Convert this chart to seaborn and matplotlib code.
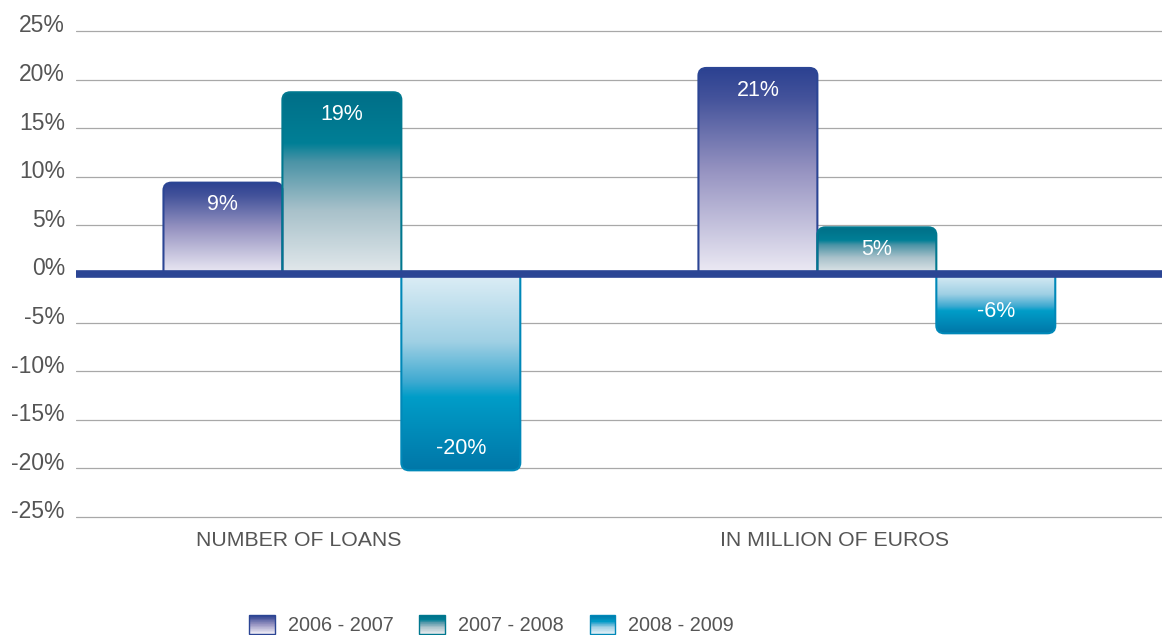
import numpy as np
import pandas as pd
import seaborn as sns
import matplotlib.pyplot as plt
from matplotlib.colors import LinearSegmentedColormap
from matplotlib.path import Path
from matplotlib.patches import PathPatch, Patch, Rectangle
from matplotlib.legend_handler import HandlerBase
from matplotlib.transforms import ScaledTranslation

# data (labels are the rounded values)
categories = ['NUMBER OF LOANS', 'IN MILLION OF EUROS']
periods = ['2006 - 2007', '2007 - 2008', '2008 - 2009']
values_06_07 = [9.4, 21.2]
values_07_08 = [18.7, 4.8]
values_08_09 = [-20.2, -6.1]
yticks = list(range(-25, 30, 5))

df = pd.DataFrame({
    'category': categories * 3,
    'period': np.repeat(periods, len(categories)),
    'value': values_06_07 + values_07_08 + values_08_09,
})

# gradient stops, from bar base (0) to bar tip (1)
gradients = {
    '2006 - 2007': [(0, '#EDEBF5'), (0.5, '#9693C1'), (0.85, '#44539B'), (1, '#2B4191')],
    '2007 - 2008': [(0, '#E3E9EC'), (0.35, '#A8C1CA'), (0.62, '#4A93A6'), (0.72, '#007F96'), (1, '#006F88')],
    '2008 - 2009': [(0, '#DEEEF6'), (0.35, '#9FD0E4'), (0.55, '#3FAAD1'), (0.63, '#009DC8'), (1, '#0077A8')],
}
edges = {'2006 - 2007': '#2B4594', '2007 - 2008': '#00788F', '2008 - 2009': '#0088B8'}
cmaps = {k: LinearSegmentedColormap.from_list(k, v) for k, v in gradients.items()}

sns.set_theme(style='white')
plt.rcParams['font.family'] = ['Liberation Sans', 'DejaVu Sans']
text_color = '#555555'

fig, ax = plt.subplots(figsize=(11.62, 6.35), dpi=100)
fig.subplots_adjust(left=0.0654, right=1.0, bottom=0.1828, top=0.9542)

sns.barplot(data=df, x='category', y='value', hue='period', hue_order=periods,
            width=0.667, gap=0, saturation=1, legend=False, ax=ax)


def tip_rounded(x0, w, h, rx, ry):
    x1 = x0 + w
    ry = ry * np.sign(h)
    verts = [(x0, 0), (x0, h - ry), (x0, h), (x0 + rx, h), (x1 - rx, h),
             (x1, h), (x1, h - ry), (x1, 0), (x0, 0)]
    codes = [Path.MOVETO, Path.LINETO, Path.CURVE3, Path.CURVE3, Path.LINETO,
             Path.CURVE3, Path.CURVE3, Path.LINETO, Path.CLOSEPOLY]
    return Path(verts, codes)


grad = np.linspace(0, 1, 256).reshape(-1, 1)
for container, period in zip(ax.containers, periods):
    for bar in container:
        x0, w, h = bar.get_x(), bar.get_width(), bar.get_height()
        bar.set_visible(False)
        outline = PathPatch(tip_rounded(x0, w, h, 0.015, 0.8), facecolor='none',
                            edgecolor=edges[period], lw=1.5, zorder=3)
        ax.add_patch(outline)
        im = ax.imshow(grad, cmap=cmaps[period], extent=(x0, x0 + w, 0, h),
                       origin='lower', aspect='auto', zorder=2, interpolation='bilinear')
        im.set_clip_path(outline)
        s = np.sign(h)
        ax.annotate(f'{round(h):.0f}%', (x0 + w / 2, h), xytext=(0, -s * 16),
                    textcoords='offset points', ha='center', va='center',
                    color='white', fontsize=15.5, zorder=5)

ax.axhline(0, color='#2B4594', lw=5.5, zorder=4)

ax.set_xlim(-0.497, 1.533)
ax.set_ylim(-25.2, 25.2)
ax.set_yticks(yticks)
ax.set_yticklabels([f'{t}%' for t in yticks])
ax.set_xticks([i - 0.08 for i in range(len(categories))])
ax.set_xticklabels(categories)
ax.set_xlabel('')
ax.set_ylabel('')
ax.yaxis.grid(True, color='#a8a8a8', lw=0.9)
ax.set_axisbelow(True)
sns.despine(ax=ax, left=True, bottom=True)
ax.tick_params(axis='y', length=0, pad=8, labelsize=16.5, labelcolor=text_color)
ax.tick_params(axis='x', length=0, pad=8.5, labelsize=15.3, labelcolor=text_color)

# y labels sit a little above their gridlines in the original
shift = ScaledTranslation(0, 5.5 / 72, fig.dpi_scale_trans)
for lab in ax.get_yticklabels():
    lab.set_transform(lab.get_transform() + shift)


class GradientHandler(HandlerBase):
    def __init__(self, cmap, edge):
        super().__init__()
        self.cmap = cmap
        self.edge = edge

    def create_artists(self, legend, orig_handle, xdescent, ydescent, width,
                       height, fontsize, trans):
        n = 30
        arts = []
        for i in range(n):
            arts.append(Rectangle((-xdescent, -ydescent + i * height / n), width,
                                  height / n * 1.05, facecolor=self.cmap(i / (n - 1)),
                                  edgecolor='none', transform=trans))
        arts.append(Rectangle((-xdescent, -ydescent), width, height, facecolor='none',
                              edgecolor=self.edge, lw=1, transform=trans))
        return arts


handles = [Patch(label=p) for p in periods]
fig.legend(handles, periods,
           handler_map={h: GradientHandler(cmaps[p], edges[p]) for h, p in zip(handles, periods)},
           loc='center', bbox_to_anchor=(0.423, 0.016), ncol=3, frameon=False,
           fontsize=14.3, handlelength=1.3, handleheight=1.1, handletextpad=0.65,
           columnspacing=1.3, borderpad=0, labelcolor=text_color)

fig.savefig('out.png', dpi=100)
